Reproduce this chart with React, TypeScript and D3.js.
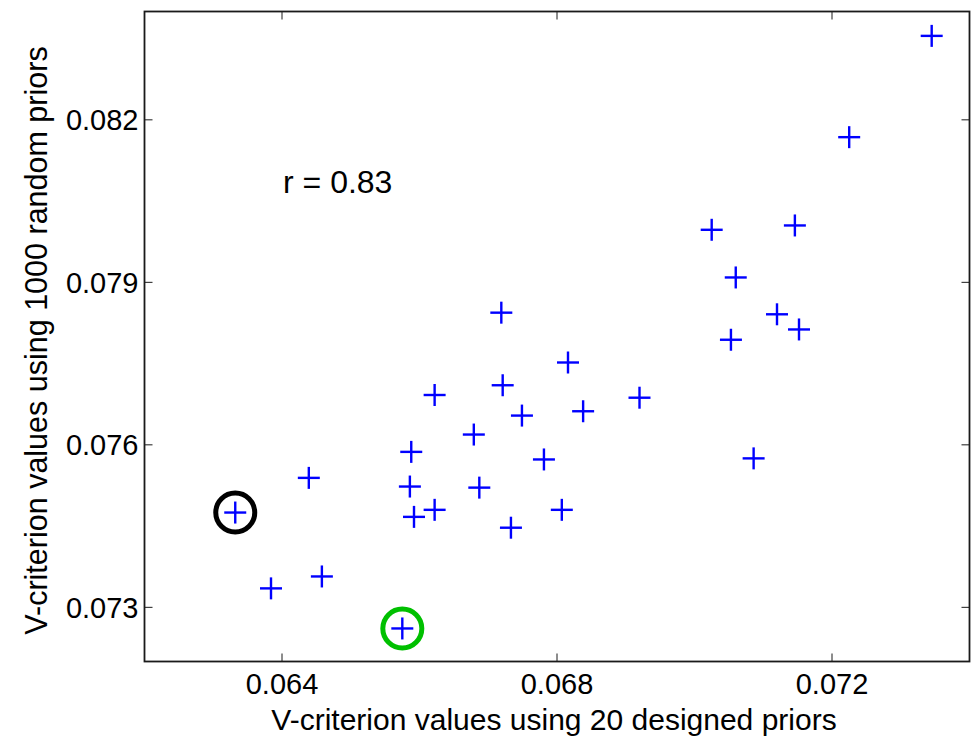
import React from "react";
import * as d3 from "d3";

// V-criterion values: 20 designed priors (x) vs 1000 random priors (y)
const designedPriors = [
  0.07345, 0.07225, 0.07025, 0.07146, 0.0706, 0.0712, 0.07152, 0.07053, 0.07086,
  0.06719, 0.06816, 0.06622, 0.06721, 0.0692, 0.06749, 0.06838, 0.06679, 0.06588,
  0.06781, 0.06586, 0.06687, 0.06622, 0.06592, 0.06807, 0.06733,
  0.06439, 0.06332, 0.06458, 0.06384, 0.06575,
];
const randomPriors = [
  0.08355, 0.08168, 0.07997, 0.08005, 0.07909, 0.07841, 0.07813, 0.07794, 0.07575,
  0.07844, 0.07752, 0.07692, 0.0771, 0.07687, 0.07654, 0.07662, 0.07619, 0.07587,
  0.07573, 0.07523, 0.07521, 0.0748, 0.07467, 0.0748, 0.07447,
  0.07539, 0.07475, 0.07357, 0.07335, 0.07261,
];

// Highlighted designs (index into the arrays above) and their ring colours
const highlightIndex = [26, 29];
const highlightColor = ["#000000", "#00c000"];

const xTicks = [0.064, 0.068, 0.072];
const yTicks = [0.073, 0.076, 0.079, 0.082];
const xDomain = [0.062, 0.074];
const yDomain = [0.072, 0.084];

const correlationLabel = "r = 0.83";
const xLabel = "V-criterion values using 20 designed priors";
const yLabel = "V-criterion values using 1000 random priors";

const W = 971;
const H = 738;
const left = 144.5;
const right = 969.5;
const top = 11.5;
const bottom = 661.5;
const font = "'Liberation Sans', Arial, Helvetica, sans-serif";

export default function App() {
  const x = d3.scaleLinear().domain(xDomain).range([left, right]);
  const y = d3.scaleLinear().domain(yDomain).range([bottom, top]);
  const tickLen = 8;
  const arm = 11;
  const axisColor = "#1a1a1a";

  return (
    <svg
      width={W}
      height={H}
      style={{ position: "absolute", left: 0, top: 0, display: "block", background: "#fff" }}
      fontFamily={font}
    >
      <rect x={0} y={0} width={W} height={H} fill="#fff" />

      {/* ticks on all four sides, pointing inward */}
      {xTicks.map((t) => (
        <g key={"xt" + t} stroke={axisColor} strokeWidth={1}>
          <line x1={x(t)} x2={x(t)} y1={bottom} y2={bottom - tickLen} />
          <line x1={x(t)} x2={x(t)} y1={top} y2={top + tickLen} />
        </g>
      ))}
      {yTicks.map((t) => (
        <g key={"yt" + t} stroke={axisColor} strokeWidth={1}>
          <line x1={left} x2={left + tickLen} y1={y(t)} y2={y(t)} />
          <line x1={right} x2={right - tickLen} y1={y(t)} y2={y(t)} />
        </g>
      ))}

      {/* axes box */}
      <rect
        x={left}
        y={top}
        width={right - left}
        height={bottom - top}
        fill="none"
        stroke={axisColor}
        strokeWidth={1.8}
      />

      {/* tick labels */}
      {xTicks.map((t) => (
        <text key={"xl" + t} x={x(t)} y={694} fontSize={29} textAnchor="middle" fill="#000">
          {d3.format(".3f")(t)}
        </text>
      ))}
      {yTicks.map((t) => (
        <text
          key={"yl" + t}
          x={138.5}
          y={y(t)}
          dy="0.36em"
          fontSize={29}
          textAnchor="end"
          fill="#000"
        >
          {d3.format(".3f")(t)}
        </text>
      ))}

      {/* axis titles */}
      <text x={(left + right) / 2 - 3} y={730} fontSize={30} textAnchor="middle" fill="#000">
        {xLabel}
      </text>
      <text
        transform={`translate(47,${(top + bottom) / 2 + 4}) rotate(-90)`}
        fontSize={30.5}
        textAnchor="middle"
        fill="#000"
      >
        {yLabel}
      </text>

      {/* correlation annotation */}
      <text x={283} y={193} fontSize={32} fill="#000">
        {correlationLabel}
      </text>

      {/* rings around highlighted designs */}
      {highlightIndex.map((i, k) => (
        <circle
          key={"ring" + i}
          cx={x(designedPriors[i])}
          cy={y(randomPriors[i])}
          r={19.5}
          fill="none"
          stroke={highlightColor[k]}
          strokeWidth={5}
        />
      ))}

      {/* plus markers */}
      {designedPriors.map((d, i) => {
        const cx = x(d);
        const cy = y(randomPriors[i]);
        return (
          <g key={"p" + i} stroke="#0000ff" strokeWidth={2.4}>
            <line x1={cx - arm} x2={cx + arm} y1={cy} y2={cy} />
            <line x1={cx} x2={cx} y1={cy - arm} y2={cy + arm} />
          </g>
        );
      })}
    </svg>
  );
}
